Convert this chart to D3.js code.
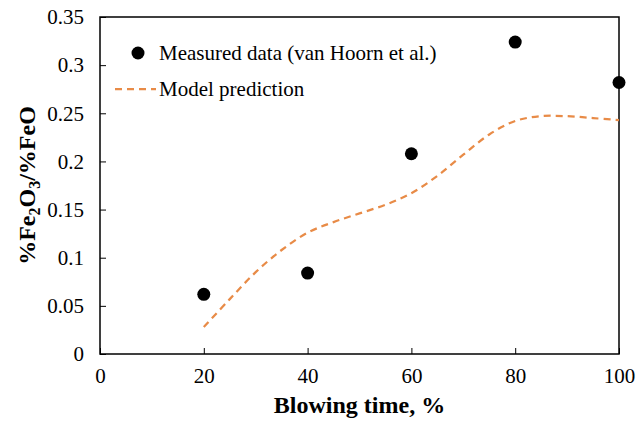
<!DOCTYPE html>
<html>
<head>
<meta charset="utf-8">
<script src="https://cdn.jsdelivr.net/npm/d3@7"></script>
<style>
  body { margin: 0; background: #fff; }
  svg text { font-family: "Liberation Serif", "Times New Roman", serif; fill: #000; }
</style>
</head>
<body>
<svg id="chart" width="636" height="425"></svg>
<script>
// measured points (van Hoorn et al.)
var measuredX = [20, 40, 60, 80, 100];
var measuredY = [0.062, 0.084, 0.208, 0.324, 0.282];

// model prediction curve
var modelX = [20, 25, 30, 35, 40, 45, 50, 55, 60, 65, 70, 75, 80, 85, 90, 95, 100];
var modelY = [0.028, 0.057, 0.085, 0.108, 0.126, 0.137, 0.146, 0.155, 0.167, 0.185, 0.207, 0.228, 0.242, 0.247, 0.247, 0.245, 0.243];

var xTicks = [0, 20, 40, 60, 80, 100];
var yTicks = [0, 0.05, 0.1, 0.15, 0.2, 0.25, 0.3, 0.35];

var legendLabels = ["Measured data (van Hoorn et al.)", "Model prediction"];

var serif = '"Liberation Serif", "Times New Roman", serif';
var orange = "#E88B47";

var svg = d3.select("#chart");

// plot box (note: "top" is taken by window.top)
var pLeft = 100, pRight = 619, pTop = 17, pBottom = 354;

var x = d3.scaleLinear().domain([0, 100]).range([pLeft, pRight]);
var y = d3.scaleLinear().domain([0, 0.35]).range([pBottom, pTop]);

// frame
svg.append("rect")
    .attr("x", pLeft)
    .attr("y", pTop)
    .attr("width", pRight - pLeft)
    .attr("height", pBottom - pTop)
    .attr("fill", "none")
    .attr("stroke", "#000")
    .attr("stroke-width", 1.5);

// x axis, ticks point inward
var xAxis = d3.axisBottom(x).tickValues(xTicks).tickSizeInner(-6).tickSizeOuter(0).tickPadding(14)
    .tickFormat(d3.format("d"));
var gx = svg.append("g")
    .attr("transform", "translate(0," + pBottom + ")")
    .call(xAxis)
    .attr("font-family", serif)
    .attr("font-size", 21);
gx.select(".domain").remove();
gx.selectAll("line").attr("stroke", "#000").attr("stroke-width", 1);
gx.selectAll("text").style("font-family", serif);

var yAxis = d3.axisLeft(y).tickValues(yTicks).tickSizeInner(-6).tickSizeOuter(0).tickPadding(16)
    .tickFormat(function(d) { return d === 0 ? "0" : String(+d.toFixed(2)); });
var gy = svg.append("g")
    .attr("transform", "translate(" + pLeft + ",0)")
    .call(yAxis)
    .attr("font-family", serif)
    .attr("font-size", 21);
gy.select(".domain").remove();
gy.selectAll("line").attr("stroke", "#000").attr("stroke-width", 1);
gy.selectAll("text").style("font-family", serif);

// model line
var line = d3.line()
    .x(function(d, i) { return x(modelX[i]); })
    .y(function(d) { return y(d); })
    .curve(d3.curveCatmullRom);

svg.append("path")
    .datum(modelY)
    .attr("d", line)
    .attr("fill", "none")
    .attr("stroke", orange)
    .attr("stroke-width", 2.25)
    .attr("stroke-dasharray", "7,5");

// measured points
svg.selectAll(".pt")
    .data(measuredY)
  .enter().append("circle")
    .attr("class", "pt")
    .attr("cx", function(d, i) { return x(measuredX[i]); })
    .attr("cy", function(d) { return y(d); })
    .attr("r", 6.5)
    .attr("fill", "#000");

// legend
var lg = svg.append("g");
lg.append("circle")
    .attr("cx", 138).attr("cy", 53).attr("r", 6.5).attr("fill", "#000");
lg.append("text")
    .attr("x", 159).attr("y", 60)
    .style("font-size", "21px")
    .text(legendLabels[0]);
lg.append("line")
    .attr("x1", 115).attr("x2", 156).attr("y1", 89).attr("y2", 89)
    .attr("stroke", orange)
    .attr("stroke-width", 2.25)
    .attr("stroke-dasharray", "7,5");
lg.append("text")
    .attr("x", 159).attr("y", 96)
    .style("font-size", "21px")
    .text(legendLabels[1]);

// axis titles
svg.append("text")
    .attr("x", (pLeft + pRight) / 2)
    .attr("y", 413)
    .attr("text-anchor", "middle")
    .style("font-size", "24px")
    .style("font-weight", "bold")
    .text("Blowing time, %");

var yt = svg.append("text")
    .attr("transform", "translate(35," + (pTop + pBottom) / 2 + ")rotate(-90)")
    .attr("text-anchor", "middle")
    .style("font-size", "24px")
    .style("font-weight", "bold");
yt.append("tspan").text("%Fe");
yt.append("tspan").attr("dy", 5).style("font-size", "16px").text("2");
yt.append("tspan").attr("dy", -5).text("O");
yt.append("tspan").attr("dy", 5).style("font-size", "16px").text("3");
yt.append("tspan").attr("dy", -5).text("/%FeO");
</script>
</body>
</html>
